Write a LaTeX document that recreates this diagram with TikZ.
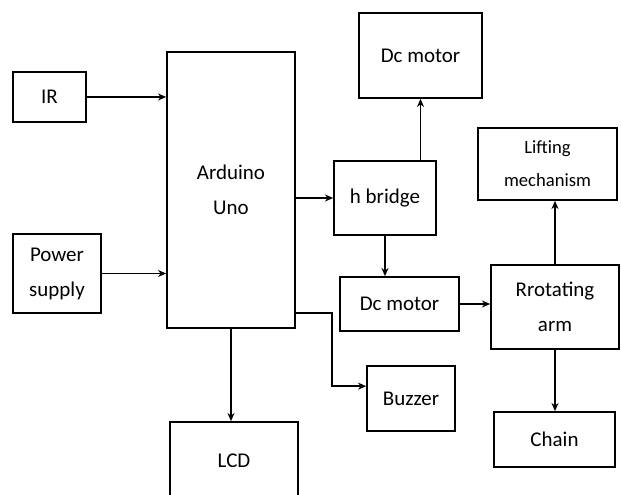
\documentclass[tikz,border=0pt]{standalone}
\usepackage{fontspec}
\setmainfont{Carlito}
\usetikzlibrary{arrows.meta, positioning, calc}

\begin{document}
\begin{tikzpicture}[>={Stealth[length=7pt,width=6pt]}, line width=1.4pt,
      blk/.style={draw, inner sep=0pt, align=center,
                  font=\fontsize{17.9}{29.9}\selectfont},
      small/.style={font=\fontsize{15.9}{28}\selectfont}]
    \useasboundingbox (0,0) rectangle (18.63,14.85);
    \node[blk, minimum width=2.19cm, minimum height=1.5cm] (ir) at (1.485,11.94) {IR};
    \node[blk, minimum width=2.64cm, minimum height=2.37cm] (pow) at (1.71,6.645) {Power\\supply};
    \node[blk, minimum width=3.84cm, minimum height=8.28cm] (ard) at (6.93,9.15) {Arduino\\Uno};
    \node[blk, minimum width=3.84cm, minimum height=2.34cm] (lcd) at (7.02,1.02) {LCD};
    \node[blk, minimum width=3.06cm, minimum height=2.22cm] (hb) at (11.55,8.91) {h bridge};
    \node[blk, minimum width=3.69cm, minimum height=2.55cm] (dc1) at (12.615,13.185) {Dc motor};
    \node[blk, minimum width=3.57cm, minimum height=1.62cm] (dc2) at (11.985,5.73) {Dc motor};
    \node[blk, minimum width=2.64cm, minimum height=1.95cm] (bz) at (12.33,2.895) {Buzzer};
    \node[blk, minimum width=3.84cm, minimum height=2.52cm] (arm) at (16.65,5.64) {Rrotating\\arm};
    \node[blk, small, minimum width=4.17cm, minimum height=2.16cm] (lift) at (16.425,9.93) {Lifting\\mechanism};
    \node[blk, minimum width=3.63cm, minimum height=1.65cm] (chain) at (16.635,1.665) {Chain};
    \draw[->] (ir.east) -- (ir -| ard.west);
    \draw[->] (pow.east) -- (pow -| ard.west);
    \draw[->] (ard.south) -- (ard.south |- lcd.north);
    \draw[->] (hb -| ard.east) -- (hb.west);
    \draw[->] (hb.north -| dc1) -- (dc1.south);
    \draw[->] (hb.south) -- (hb.south |- dc2.north);
    \draw[->] (dc2.east) -- (dc2.east -| arm.west);
    \draw[->] (arm.north) -- (arm.north |- lift.south);
    \draw[->] (arm.south) -- (arm.south |- chain.north);
    \draw[->] ([yshift=0.48cm]ard.south east) -- ++(1.08,0) |- ([yshift=0.37cm]bz.west);
  \end{tikzpicture}
\end{document}
